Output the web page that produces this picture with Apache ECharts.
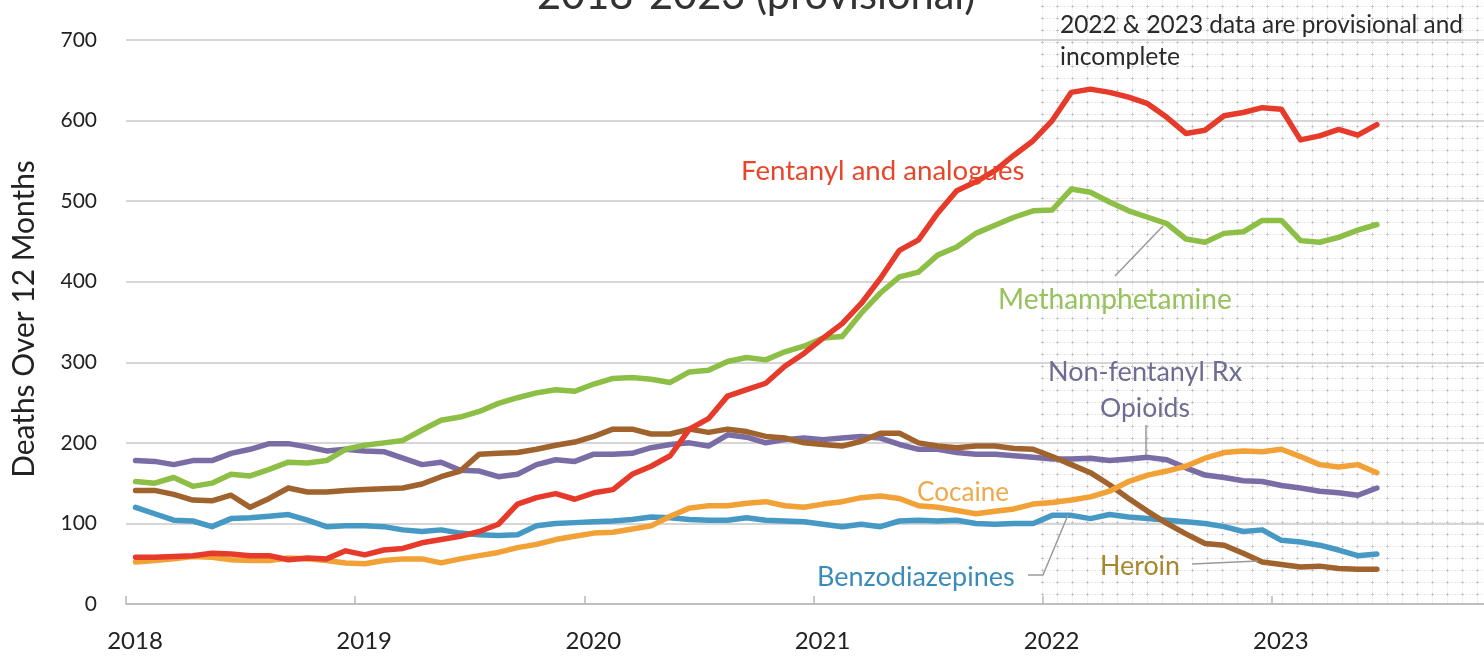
<!DOCTYPE html>
<html><head><meta charset="utf-8">
<script src="https://cdn.jsdelivr.net/npm/echarts@6/dist/echarts.min.js"></script>
<style>html,body{margin:0;padding:0;background:#fff;overflow:hidden}#c{width:1484px;height:657px}</style>
</head><body><div id="c"></div>
<script>
// Monthly values, Jan 2018 .. Jun 2023 (12-month rolling deaths)
const startYear = 2018;
const yearTicks = [2018, 2019, 2020, 2021, 2022, 2023];
const fentanyl = [58,58,59,60,63,62,60,60,55,57,56,66,61,67,69,76,80,84,90,99,124,132,137,130,138,142,161,171,184,217,230,258,266,274,295,311,330,348,373,404,439,452,485,513,524,538,557,575,600,635,639,635,629,621,604,584,588,606,610,616,614,576,581,589,582,595];
const meth = [152,150,157,146,150,161,159,167,176,175,178,192,197,200,203,216,228,232,239,249,256,262,266,264,273,280,281,279,275,288,290,301,306,303,313,320,330,332,361,386,406,412,433,443,460,470,480,488,489,515,511,499,488,480,472,453,449,460,462,476,476,451,449,455,464,471];
const nonFentanylRx = [178,177,173,178,178,187,192,199,199,195,190,192,190,189,181,173,176,166,165,158,161,173,179,177,186,186,187,194,198,200,196,210,207,200,204,206,204,206,208,206,198,192,192,188,186,186,184,182,180,180,181,178,180,182,179,169,160,157,153,152,147,144,140,138,135,144];
const heroin = [141,141,136,129,128,135,120,131,144,139,139,141,142,143,144,149,158,165,186,187,188,192,197,201,208,217,217,211,211,217,213,217,214,208,206,200,198,196,202,212,212,200,196,194,196,196,193,192,183,173,163,148,131,115,100,87,75,73,63,52,49,46,47,44,43,43];
const benzo = [120,112,104,103,96,106,107,109,111,104,96,97,97,96,92,90,92,88,86,85,86,97,100,101,102,103,105,108,107,105,104,104,107,104,103,102,99,96,99,96,103,104,103,104,100,99,100,100,110,110,106,111,108,106,104,102,100,96,90,92,79,77,73,67,60,62];
const cocaine = [52,54,56,59,58,55,54,54,57,56,54,51,50,54,56,56,51,56,60,64,70,74,80,84,88,89,93,97,109,119,122,122,125,127,122,120,124,127,132,134,131,122,120,116,112,115,118,124,126,129,133,140,152,160,165,171,181,188,190,189,192,183,173,170,173,163];

const seriesNames = ['Benzodiazepines','Non-fentanyl Rx Opioids','Heroin','Cocaine','Methamphetamine','Fentanyl and analogues'];
const seriesData = [benzo, nonFentanylRx, heroin, cocaine, meth, fentanyl];
const seriesColors = ['#4699C4','#7A6DA6','#A0632E','#F2A137','#8DBE45','#E63A2A'];

// month index -> decimal year at mid-month
function monthPos(i){ return startYear + (i + 0.5) / 12; }

const FAM = 'Lato';
const mctx = document.createElement('canvas').getContext('2d');
function fit(text, w){ mctx.font = '100px ' + FAM; return 100 * w / mctx.measureText(text).width; }

// dotted grid pattern for the provisional region
const pat = document.createElement('canvas');
pat.width = 15; pat.height = 12;
(function(){
  const p = pat.getContext('2d');
  p.fillStyle = 'rgba(120,120,120,0.18)';
  for (let y = 0; y < 12; y += 2) p.fillRect(7, y, 1, 1);
  for (let x = 0; x < 15; x += 2) p.fillRect(x, 6, 1, 1);
  p.fillStyle = 'rgba(120,120,120,0.26)';
  p.fillRect(6, 6, 3, 1); p.fillRect(7, 5, 1, 3);
})();

const chart = echarts.init(document.getElementById('c'), null, {renderer:'canvas'});

const option = {
  animation: false,
  backgroundColor: '#fff',
  grid: {left: 126, width: 1375, top: 40, bottom: 53, containLabel: false, outerBoundsMode: 'none'},
  xAxis: {
    type: 'value', min: 2018, max: 2024, interval: 1,
    axisLine: {show: true, lineStyle: {color: '#b8b8b8', width: 1.5}},
    axisTick: {show: true, inside: true, length: 8, lineStyle: {color: '#b8b8b8', width: 1.5}},
    splitLine: {show: false},
    axisLabel: {
      fontFamily: FAM, fontSize: 24, color: '#222', margin: 25, padding: [0,0,0,18],
      formatter: v => (yearTicks.indexOf(v) >= 0 ? String(v) : '')
    }
  },
  yAxis: {
    type: 'value', min: 0, max: 700, interval: 100,
    axisLine: {show: false}, axisTick: {show: false},
    splitLine: {show: true, lineStyle: {color: '#c8c8c8', width: 1.5}},
    axisLabel: {fontFamily: FAM, fontSize: 21, color: '#222', margin: 29}
  },
  series: seriesNames.map((n, k) => ({
    name: n, type: 'line', showSymbol: false, smooth: false, z: 3 + k,
    lineStyle: {width: 5.5, color: seriesColors[k], cap: 'round', join: 'round'},
    itemStyle: {color: seriesColors[k]},
    data: seriesData[k].map((v, i) => [monthPos(i), v])
  }))
};
chart.setOption(option);

const x2022 = chart.convertToPixel({xAxisIndex: 0}, 2022);
const y0 = chart.convertToPixel({yAxisIndex: 0}, 0);

function txt(text, x, y, w, color, extra){
  const fs = fit(text, w);
  return Object.assign({
    type: 'text', x: x, y: y, z: 50,
    style: {text: text, font: fs.toFixed(1) + 'px ' + FAM, fill: color,
            align: 'left', textAlign: 'left', verticalAlign: 'middle', textVerticalAlign: 'middle'}
  }, extra || {});
}
function leader(points){
  return {type: 'polyline', z: 49, shape: {points: points}, style: {stroke: '#9a9a9a', lineWidth: 1.5, fill: null}};
}

const graphics = [
  {type: 'rect', z: -10, shape: {x: x2022 - 2, y: 0, width: 1484 - x2022 + 2, height: y0}, style: {fill: {image: pat, repeat: 'repeat'}}},
  txt('2018-2023 (provisional)', 537, -4, 438, '#333'),
  txt('2022 & 2023 data are provisional and', 1060, 25, 403, '#2a2a2a'),
  txt('incomplete', 1060, 57, 120, '#2a2a2a'),
  txt('Fentanyl and analogues', 741, 171, 284, '#E8452A'),
  txt('Methamphetamine', 998, 300, 234, '#97C25C'),
  txt('Non-fentanyl Rx', 1048, 372, 194, '#6E6D91'),
  txt('Opioids', 1100, 408, 90, '#6E6D91'),
  txt('Cocaine', 917, 493, 92, '#F0A94A'),
  txt('Benzodiazepines', 817, 577, 198, '#3A8BBA'),
  txt('Heroin', 1100, 566, 80, '#A8872E'),
  leader([[1115, 276], [1163, 226]]),
  leader([[1146, 425], [1146, 455]]),
  leader([[1028, 575], [1043, 575], [1068, 515]]),
  leader([[1192, 564], [1258, 561]]),
  {type: 'text', x: 24, y: 319, rotation: Math.PI / 2, z: 50,
   style: {text: 'Deaths Over 12 Months', font: fit('Deaths Over 12 Months', 318).toFixed(1) + 'px ' + FAM, fill: '#222',
           align: 'center', textAlign: 'center', verticalAlign: 'middle', textVerticalAlign: 'middle'}}
];
chart.setOption({graphic: graphics});
</script>
</body></html>
